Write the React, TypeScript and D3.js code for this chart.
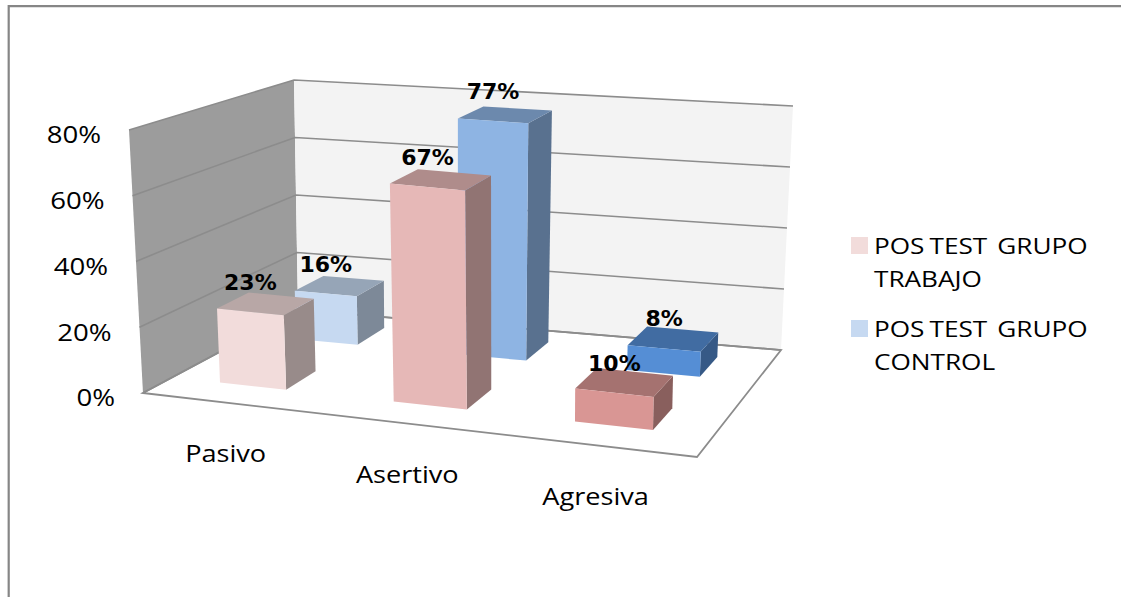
import React from "react";
import * as d3 from "d3";

const categories = ["Pasivo", "Asertivo", "Agresiva"];
const seriesNames = [["POS TEST  GRUPO", "TRABAJO"], ["POS TEST  GRUPO", "CONTROL"]];
const trabajoValues = [23, 67, 10];
const controlValues = [16, 77, 8];
const trabajoColors = ["#f2dcdb", "#e6b8b7", "#d99694"];
const controlColors = ["#c6d9f1", "#8eb4e3", "#558ed5"];
const legendColors = ["#f2dcdb", "#c6d9f1"];
const ticks = [0, 20, 40, 60, 80];

const W = 1121, H = 597;
const FONT = "'Open Sans', sans-serif";

// projection corners: floor and top of the 3D box
const floorCorners = { fl: [143, 393], fr: [697, 457], bl: [298, 310], br: [781, 350] };
const topCorners = { fl: [129, 130], fr: [702, 186], bl: [294, 80], br: [793, 106] };

const bilinear = (c: any, u: number, v: number, k: number) =>
  (1 - v) * (c.fl[k] + u * (c.fr[k] - c.fl[k])) + v * (c.bl[k] + u * (c.br[k] - c.bl[k]));

const hScale = d3.scaleLinear().domain([0, 80]).range([0, 1]);
const project = (u: number, v: number, value: number): [number, number] => {
  const t = hScale(value);
  return [
    bilinear(floorCorners, u, v, 0) * (1 - t) + bilinear(topCorners, u, v, 0) * t,
    bilinear(floorCorners, u, v, 1) * (1 - t) + bilinear(topCorners, u, v, 1) * t,
  ];
};

const uBand = d3.scaleBand<string>().domain(categories).range([-0.017, 0.983]).paddingInner(0.6).paddingOuter(0.3);
// foreshortening of the floor along its width
const uWarp = d3.scaleLinear()
  .domain([0.083, 0.216, 0.416, 0.549, 0.749, 0.882])
  .range([0.088, 0.21, 0.409, 0.544, 0.744, 0.888]);
const uSpan = (cat: string) => {
  const a = uBand(cat)!;
  return [uWarp(a), uWarp(a + uBand.bandwidth())];
};
const depthRanges = [[0.19, 0.4], [0.7, 0.89]];

const line = d3.line();
const poly = (pts: [number, number][]) => line(pts)! + "Z";
const shade = (c: string, k: number) => {
  const r = d3.rgb(c);
  return d3.rgb(r.r * k, r.g * k, r.b * k).formatHex();
};

function Label({ x, y, sx, size, anchor, children, ws }: any) {
  return (
    <text
      transform={`translate(${x},${y}) scale(${sx},1)`}
      dy="0.36em"
      textAnchor={anchor}
      fontFamily={FONT}
      fontSize={size}
      fill="#000"
      xmlSpace="preserve"
      style={ws ? { wordSpacing: ws } : undefined}
    >
      {children}
    </text>
  );
}

function Bar({ cat, value, color, depth }: { cat: string; value: number; color: string; depth: number[] }) {
  const [u0, u1] = uSpan(cat);
  const [v0, v1] = depth;
  return (
    <g>
      <path d={poly([project(u1, v0, 0), project(u1, v1, 0), project(u1, v1, value), project(u1, v0, value)])} fill={shade(color, 0.63)} />
      <path d={poly([project(u0, v0, value), project(u1, v0, value), project(u1, v1, value), project(u0, v1, value)])} fill={shade(color, 0.76)} />
      <path d={poly([project(u0, v0, 0), project(u1, v0, 0), project(u1, v0, value), project(u0, v0, value)])} fill={color} />
    </g>
  );
}

function ValueLabel({ cat, value, depth }: { cat: string; value: number; depth: number[] }) {
  const [u0, u1] = uSpan(cat);
  const [x, y] = project((u0 + u1) / 2, depth[0], value);
  return (
    <text x={x} y={y - 30} dy="0.36em" textAnchor="middle" fontFamily="'DejaVu Sans', sans-serif" fontWeight="bold" fontSize={22} fill="#000">
      {value}%
    </text>
  );
}

export default function App() {
  const gridOutline = "#8c8c8c";
  return (
    <svg width={W} height={H} style={{ position: "fixed", left: 0, top: 0, background: "#fff" }}>
      <path d={`M8.7,${H}V6.2H${W}`} fill="none" stroke="#868686" strokeWidth={2.2} />
      {/* walls */}
      <path d={poly([project(0, 0, 0), project(0, 1, 0), project(0, 1, 80), project(0, 0, 80)])} fill="#9c9c9c" />
      <path d={poly([project(0, 1, 0), project(1, 1, 0), project(1, 1, 80), project(0, 1, 80)])} fill="#f3f3f3" />
      <path d={poly([project(0, 0, 0), project(1, 0, 0), project(1, 1, 0), project(0, 1, 0)])} fill="#fff" stroke={gridOutline} strokeWidth={1.8} />
      {ticks.map((t) => (
        <path
          key={t}
          d={line([project(0, 0, t), project(0, 1, t), project(1, 1, t)])!}
          fill="none"
          stroke={gridOutline}
          strokeWidth={1.6}
        />
      ))}
      {/* tick labels */}
      {ticks.map((t) => {
        const [x, y] = project(0, 0, t);
        return (
          <Label key={t} x={x - 28} y={y + 5} sx={1.2} size={23} anchor="end">
            {t}%
          </Label>
        );
      })}
      {/* category labels */}
      {categories.map((c) => {
        const [u0, u1] = uSpan(c);
        const [x, y] = project((u0 + u1) / 2, 0, 0);
        return (
          <Label key={c} x={x} y={y + 51} sx={1.18} size={23} anchor="middle">
            {c}
          </Label>
        );
      })}
      {/* bars: control (back) first */}
      {categories.map((c, i) => (
        <g key={c}>
          <Bar cat={c} value={controlValues[i]} color={controlColors[i]} depth={depthRanges[1]} />
          <Bar cat={c} value={trabajoValues[i]} color={trabajoColors[i]} depth={depthRanges[0]} />
        </g>
      ))}
      {categories.map((c, i) => (
        <g key={c}>
          <ValueLabel cat={c} value={controlValues[i]} depth={depthRanges[1]} />
          <ValueLabel cat={c} value={trabajoValues[i]} depth={depthRanges[0]} />
        </g>
      ))}
      {/* legend */}
      {seriesNames.map((lines, i) => (
        <g key={i} transform={`translate(851,${237 + i * 83})`}>
          <rect width={17} height={17} fill={legendColors[i]} />
          {lines.map((l, j) => (
            <Label key={j} x={23} y={9 + j * 33} sx={1.19} size={22} anchor="start" ws={-1.5}>
              {l}
            </Label>
          ))}
        </g>
      ))}
    </svg>
  );
}
